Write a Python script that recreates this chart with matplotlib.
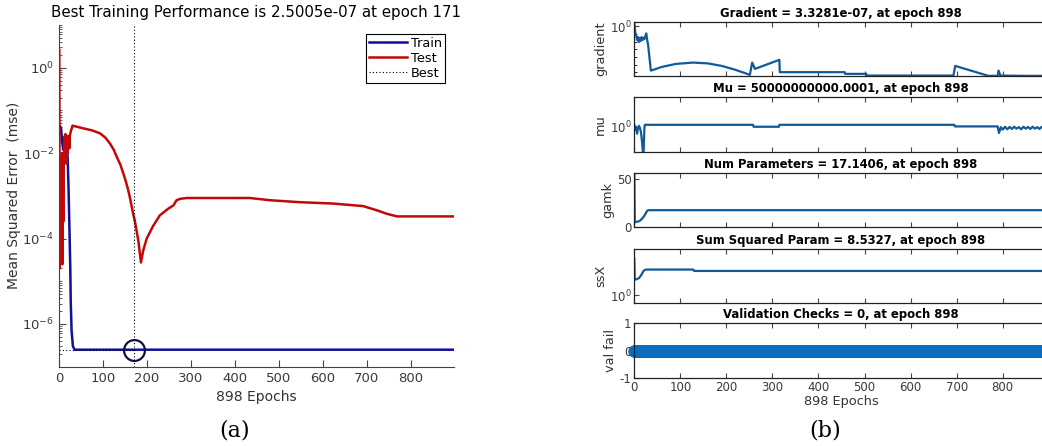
import numpy as np
import matplotlib
matplotlib.use("Agg")
import matplotlib.pyplot as plt
from matplotlib.ticker import FixedLocator, NullFormatter, LogLocator

# ---------------- data ----------------
n_epochs = 898
best_epoch = 171
best_perf = 2.5005e-07

train_epochs = [0, 4, 6, 9, 13, 16, 19, 21, 23, 25, 26, 28, 31, 35, 898]
train_mse = [4.5e-2, 3.9e-2, 2.0e-2, 1.2e-2, 1.07e-2, 1.7e-2, 8.1e-3, 1.6e-3,
             1.9e-4, 2.1e-5, 3.5e-6, 6.9e-7, 3.0e-7, 2.5005e-7, 2.5005e-7]

test_epochs = [0, 1, 2, 3, 4, 5, 6, 7, 8, 9, 10, 11, 12, 13, 14, 15, 16, 17,
               18, 19, 20, 21, 22, 23, 24, 25, 26, 27, 28, 29, 30,
               55, 75, 93, 105, 115, 124, 131, 139, 146, 152, 157, 161, 165,
               169, 172, 180, 186, 191, 199, 214, 229, 248, 260, 267, 275,
               290, 434, 480, 548, 624, 692, 723, 746, 769, 898]
test_mse = [2.6, 2.0e-5, 5.0e-3, 3.2e-5, 7.9e-3, 6.3e-5, 1.0e-2, 2.5e-5,
            6.3e-3, 2.5e-4, 1.0e-2, 6.3e-3, 2.5e-2, 7.9e-3, 2.8e-2, 7.1e-3,
            2.5e-2, 5.6e-3, 2.0e-2, 1.0e-2, 2.5e-2, 1.8e-2, 2.4e-2, 1.3e-2,
            2.6e-2, 2.8e-2, 3.2e-2, 3.4e-2, 3.7e-2, 4.0e-2, 4.4e-2,
            3.8e-2, 3.4e-2, 2.9e-2, 2.3e-2, 1.7e-2, 1.2e-2, 8.1e-3, 5.4e-3,
            3.3e-3, 2.1e-3, 1.35e-3, 8.9e-4, 5.5e-4, 3.5e-4, 2.6e-4, 8.9e-5,
            2.75e-5, 5.2e-5, 1.0e-4, 2.0e-4, 3.5e-4, 5.0e-4, 6.0e-4, 7.9e-4,
            8.5e-4, 8.9e-4, 8.9e-4, 7.9e-4, 7.1e-4, 6.6e-4, 5.75e-4, 4.6e-4,
            3.8e-4, 3.3e-4, 3.3e-4]

grad_epochs = [0, 2, 4, 6, 8, 10, 12, 14, 16, 18, 20, 22, 24, 26, 28, 30, 33,
               36, 60, 90, 128, 160, 190, 220, 251, 256, 262, 315, 316, 457,
               458, 504, 505, 693, 697, 769, 789, 791, 795, 856, 898]
grad_vals = [2.5, 1.8e-1, 5.5e-2, 1.6e-2, 4.0e-2, 8.9e-3, 3.0e-2, 1.2e-2,
             4.0e-2, 1.6e-2, 3.0e-2, 2.2e-2, 5.5e-2, 1.2e-1, 1.6e-2, 3.6e-3,
             7.4e-5, 1.6e-6, 4.9e-6, 1.2e-5, 1.8e-5, 1.4e-5, 6.6e-6, 2.0e-6,
             4.5e-7, 1.8e-5, 2.7e-6, 4.1e-5, 1.0e-6, 1.0e-6, 6.0e-7, 6.0e-7,
             3.6e-7, 3.6e-7, 6.6e-6, 3.3e-7, 3.3e-7, 1.6e-6, 3.6e-7, 3.3e-7,
             3.3281e-7]

mu_epochs = [0, 2, 4, 6, 8, 10, 12, 14, 16, 18, 19, 20, 21, 22, 23, 258, 259,
             314, 315, 695, 696, 789, 792, 796, 800, 805, 810, 815, 820, 825,
             830, 835, 840, 845, 850, 855, 860, 865, 870, 875, 880, 885, 890,
             895, 898]
mu_vals = [1.6, 0.43, 1.0, 0.15, 0.58, 1.3, 0.76, 0.32, 0.046, 2.8e-3,
           3e-4, 3e-4, 0.025, 0.76, 1.7, 1.7, 1.0, 1.0, 1.7, 1.7, 1.1, 1.1,
           0.18, 0.9, 0.45, 1.0, 0.5, 0.95, 0.55, 1.0, 0.6, 0.9, 0.5, 1.0,
           0.6, 0.95, 0.55, 1.0, 0.6, 0.9, 0.55, 1.0, 0.6, 0.95, 0.8]

gamk_epochs = [0, 1, 5, 10, 13, 16, 19, 22, 25, 28, 31, 898]
gamk_vals = [61, 4.5, 5.0, 5.6, 6.5, 8.0, 9.5, 11.5, 14.0, 16.5, 17.1406,
             17.1406]

ssx_epochs = [0, 1, 5, 10, 14, 17, 20, 23, 27, 128, 130, 898]
ssx_vals = [26, 3.9, 4.1, 4.5, 5.5, 6.8, 8.5, 9.4, 9.66, 9.66, 8.53, 8.5327]

val_epochs = list(range(0, 899))
val_fail = [0] * 899

x_ticks = [0, 100, 200, 300, 400, 500, 600, 700, 800]

# ---------------- figure ----------------
W, H = 1042, 446
plt.rcParams['font.family'] = ['DejaVu Sans']
plt.rcParams['axes.unicode_minus'] = False
fig = plt.figure(figsize=(W / 100, H / 100), dpi=100)


def px_axes(x0, y0, x1, y1):
    return fig.add_axes([x0 / W, 1 - y1 / H, (x1 - x0) / W, (y1 - y0) / H])


tick_col = '#3a3a3a'

# ---------------- left panel ----------------
ax = px_axes(59.3, 25, 453.6, 366.7)
ax.set_yscale('log')
ax.set_xlim(0, n_epochs)
ax.set_ylim(1e-7, 1e1)
ax.plot(train_epochs, train_mse, color='#10109a', lw=1.8, label='Train')
ax.plot(test_epochs, test_mse, color='#c40808', lw=1.8, label='Test')
ax.axvline(best_epoch, color='k', lw=0.8, ls=(0, (1, 2)), label='Best')
ax.plot([0, best_epoch], [best_perf, best_perf], color='k', lw=0.8,
        ls=(0, (1, 2)))
ax.plot([best_epoch], [best_perf], marker='o', ms=15, mfc='none',
        mec='#101040', mew=1.6, ls='none')
ax.yaxis.set_major_locator(FixedLocator([1e0, 1e-2, 1e-4, 1e-6]))
ax.yaxis.set_minor_locator(LogLocator(base=10, subs=np.arange(1, 10)))
ax.yaxis.set_minor_formatter(NullFormatter())
ax.set_xticks(x_ticks)
for s in ['top', 'right']:
    ax.spines[s].set_visible(False)
for s in ['left', 'bottom']:
    ax.spines[s].set_color('#444444')
    ax.spines[s].set_linewidth(0.8)
ax.tick_params(axis='both', which='major', direction='in', length=5,
               labelsize=9.5, labelcolor=tick_col, color='#444444')
ax.tick_params(axis='y', which='minor', direction='in', length=2.5,
               color='#444444')
ax.set_title('Best Training Performance is 2.5005e-07 at epoch 171',
             fontsize=10.8, pad=6)
ax.set_ylabel('Mean Squared Error  (mse)', fontsize=10, color='#333333',
              labelpad=1)
ax.set_xlabel('898 Epochs', fontsize=10, color='#333333', labelpad=4)
leg = ax.legend(loc='upper right', bbox_to_anchor=(0.978, 0.975),
                fontsize=9.3, handlelength=2.9, fancybox=False,
                framealpha=1, edgecolor='k', borderpad=0.25,
                labelspacing=0.15, handletextpad=0.3, borderaxespad=0)
leg.get_frame().set_linewidth(0.8)

fig.text(235 / W, 1 - 431 / H, '(a)', fontsize=16, family='DejaVu Serif',
         ha='center', va='center')

# ---------------- right panels ----------------
line_col = '#115a99'
xr0, xr1 = 634.3, 1047.8
rows = [(21.7, 76), (97.3, 152), (173.3, 226.7), (249, 303.3),
        (323.3, 378.3)]
titles = ['Gradient = 3.3281e-07, at epoch 898',
          'Mu = 50000000000.0001, at epoch 898',
          'Num Parameters = 17.1406, at epoch 898',
          'Sum Squared Param = 8.5327, at epoch 898',
          'Validation Checks = 0, at epoch 898']
ylabels = ['gradient', 'mu', 'gamk', 'ssX', 'val fail']

axes = []
for i, (t, b) in enumerate(rows):
    a = px_axes(xr0, t, xr1, b)
    a.set_xlim(0, n_epochs)
    a.set_xticks(x_ticks)
    a.tick_params(axis='both', direction='in', length=3.5, top=True,
                  right=True, labelsize=8.5, labelcolor=tick_col,
                  color='#444444', pad=2)
    a.tick_params(axis='y', which='minor', direction='in', length=2,
                  right=True)
    if i < 4:
        a.tick_params(axis='x', labelbottom=False)
    for s in a.spines.values():
        s.set_linewidth(0.9)
        s.set_color('#222222')
    a.set_title(titles[i], fontsize=8.4, fontweight='bold', pad=3.5)
    a.set_ylabel(ylabels[i], fontsize=9.3, color='#333333', labelpad=2)
    axes.append(a)

# gradient
a = axes[0]
a.set_yscale('log')
a.plot(grad_epochs, grad_vals, color=line_col, lw=1.6)
a.set_ylim(10 ** -6.5, 10 ** 0.6)
a.yaxis.set_major_locator(FixedLocator([1e0]))
a.yaxis.set_minor_locator(FixedLocator([1e-1, 1e-2, 1e-3, 1e-4, 1e-5, 1e-6]))
a.yaxis.set_minor_formatter(NullFormatter())

# mu
a = axes[1]
a.set_yscale('log')
a.plot(mu_epochs, mu_vals, color=line_col, lw=1.6)
a.set_ylim(1e-3, 10 ** 3.5)
a.yaxis.set_major_locator(FixedLocator([1e0]))
a.yaxis.set_minor_locator(FixedLocator([]))

# gamk
a = axes[2]
a.plot(gamk_epochs, gamk_vals, color=line_col, lw=1.6)
a.set_ylim(0, 55.4)
a.set_yticks([0, 50])

# ssX
a = axes[3]
a.set_yscale('log')
a.plot(ssx_epochs, ssx_vals, color=line_col, lw=1.6)
a.set_ylim(10 ** -0.32, 10 ** 1.78)
a.yaxis.set_major_locator(FixedLocator([1e0]))
a.yaxis.set_minor_locator(FixedLocator([]))

# val fail
a = axes[4]
a.plot(val_epochs, val_fail, color='#0a6dbd', lw=1, marker='o', ms=8,
       mfc='#0a6dbd', mec='#0a6dbd', clip_on=False)
a.set_ylim(-1, 1)
a.set_yticks([-1, 0, 1])
a.set_xlabel('898 Epochs', fontsize=9.3, color='#333333', labelpad=1)

fig.text(825 / W, 1 - 430 / H, '(b)', fontsize=16, family='DejaVu Serif',
         ha='center', va='center')

fig.savefig('out.png', dpi=100)
